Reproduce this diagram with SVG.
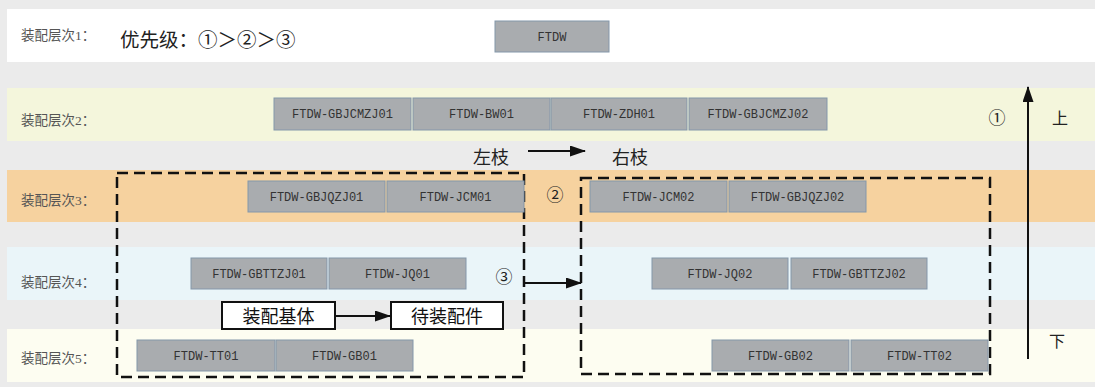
<svg xmlns="http://www.w3.org/2000/svg" width="1095" height="387" viewBox="0 0 1095 387">
  <style>
    .band-label { font-family: "Liberation Serif", "Noto Sans CJK SC", serif; font-size: 13.5px; fill: #555; }
    .node rect { fill: #a9acaf; stroke: #8497aa; stroke-width: 1; }
    .node text { font-family: "Liberation Mono", "DejaVu Sans Mono", monospace; font-size: 12px; fill: #333; text-anchor: middle; }
    .note { font-family: "Liberation Serif", "Noto Sans CJK SC", serif; fill: #222; }
    .cn { font-family: "Noto Sans CJK SC", sans-serif; fill: #222; }
    .group { fill: none; stroke: #111; stroke-width: 2.5; stroke-dasharray: 11 6; }
    .legend rect { fill: #fff; stroke: #111; stroke-width: 2; }
    .legend text { font-family: "Noto Sans CJK SC", sans-serif; font-size: 18px; fill: #111; text-anchor: middle; }
    .conn { stroke: #111; stroke-width: 2; fill: none; }
  </style>
  <defs>
    <marker id="arrow" viewBox="0 0 16 11" refX="15" refY="5.5" markerWidth="8" markerHeight="5.5" markerUnits="strokeWidth" orient="auto">
      <path d="M0,0 L16,5.5 L0,11 z" fill="#111"/>
    </marker>
  </defs>

  <!-- background and level bands -->
  <rect x="0" y="0" width="1095" height="387" fill="#ebebeb"/>
  <rect x="7" y="9" width="1088" height="53" fill="#ffffff"/>
  <rect x="7" y="88" width="1088" height="53" fill="#f4f6dc"/>
  <rect x="7" y="170" width="1088" height="52" fill="#f6d29f"/>
  <rect x="7" y="247" width="1088" height="53" fill="#eaf5f9"/>
  <rect x="7" y="329" width="1088" height="53" fill="#fdfdf1"/>

  <!-- level labels -->
  <g id="labels">
    <text class="band-label" x="21" y="40">装配层次1：</text>
    <text class="band-label" x="21" y="125">装配层次2：</text>
    <text class="band-label" x="21" y="205">装配层次3：</text>
    <text class="band-label" x="21" y="287">装配层次4：</text>
    <text class="band-label" x="21" y="363">装配层次5：</text>
  </g>

  <text class="cn" x="120" y="47" font-size="19.5">优先级：①＞②＞③</text>

  <!-- branch groups -->
  <g id="branch-left"><rect class="group" x="117" y="173" width="407" height="204"/></g>
  <g id="branch-right"><rect class="group" x="581" y="178" width="409" height="196"/></g>

  <!-- level 1 -->
  <g id="n-FTDW" class="node"><rect x="495" y="21" width="114" height="31"/><text x="552" y="41">FTDW</text></g>

  <!-- level 2 -->
  <g id="n-GBJCMZJ01" class="node"><rect x="274" y="98" width="137" height="32"/><text x="342.5" y="118">FTDW-GBJCMZJ01</text></g>
  <g id="n-BW01" class="node"><rect x="413" y="98" width="137" height="32"/><text x="481.5" y="118">FTDW-BW01</text></g>
  <g id="n-ZDH01" class="node"><rect x="551" y="98" width="136" height="32"/><text x="619" y="118">FTDW-ZDH01</text></g>
  <g id="n-GBJCMZJ02" class="node"><rect x="689" y="98" width="138" height="32"/><text x="758" y="118">FTDW-GBJCMZJ02</text></g>

  <!-- level 3 -->
  <g id="n-GBJQZJ01" class="node"><rect x="248" y="181" width="137" height="31"/><text x="316.5" y="201">FTDW-GBJQZJ01</text></g>
  <g id="n-JCM01" class="node"><rect x="387" y="181" width="137" height="31"/><text x="455.5" y="201">FTDW-JCM01</text></g>
  <g id="n-JCM02" class="node"><rect x="590" y="181" width="137" height="31"/><text x="658.5" y="201">FTDW-JCM02</text></g>
  <g id="n-GBJQZJ02" class="node"><rect x="729" y="181" width="137" height="31"/><text x="797.5" y="201">FTDW-GBJQZJ02</text></g>

  <!-- level 4 -->
  <g id="n-GBTTZJ01" class="node"><rect x="191" y="258" width="136" height="31"/><text x="259" y="278">FTDW-GBTTZJ01</text></g>
  <g id="n-JQ01" class="node"><rect x="329" y="258" width="137" height="31"/><text x="397.5" y="278">FTDW-JQ01</text></g>
  <g id="n-JQ02" class="node"><rect x="652" y="258" width="136" height="31"/><text x="720" y="278">FTDW-JQ02</text></g>
  <g id="n-GBTTZJ02" class="node"><rect x="791" y="258" width="136" height="31"/><text x="859" y="278">FTDW-GBTTZJ02</text></g>

  <!-- level 5 -->
  <g id="n-TT01" class="node"><rect x="137" y="340" width="138" height="31"/><text x="206" y="360">FTDW-TT01</text></g>
  <g id="n-GB01" class="node"><rect x="276" y="340" width="137" height="31"/><text x="344.5" y="360">FTDW-GB01</text></g>
  <g id="n-GB02" class="node"><rect x="712" y="340" width="137" height="31"/><text x="780.5" y="360">FTDW-GB02</text></g>
  <g id="n-TT02" class="node"><rect x="851" y="340" width="137" height="31"/><text x="919.5" y="360">FTDW-TT02</text></g>

  <!-- legend: base part to mating part -->
  <g id="legend-base" class="legend"><rect x="222" y="302" width="113" height="27"/><text x="278.5" y="323">装配基体</text></g>
  <g id="legend-part" class="legend"><rect x="391" y="302" width="112" height="27"/><text x="447" y="323">待装配件</text></g>

  <!-- connectors -->
  <g id="connectors">
    <line class="conn" x1="335" y1="316" x2="390" y2="316" marker-end="url(#arrow)"/>
    <line class="conn" x1="528" y1="151" x2="585" y2="151" marker-end="url(#arrow)"/>
    <line class="conn" x1="524" y1="283" x2="581" y2="283" marker-end="url(#arrow)"/>
    <line class="conn" x1="1028" y1="359" x2="1028" y2="87" marker-end="url(#arrow)"/>
  </g>

  <!-- annotations -->
  <text class="cn" x="473" y="164" font-size="18">左枝</text>
  <text class="cn" x="612" y="164" font-size="18">右枝</text>
  <text class="note" x="555" y="201" font-size="17" text-anchor="middle">②</text>
  <text class="note" x="504" y="283" font-size="17" text-anchor="middle">③</text>
  <text class="note" x="997" y="124" font-size="17" text-anchor="middle">①</text>
  <text class="cn" x="1060" y="124" font-size="16" text-anchor="middle">上</text>
  <text class="cn" x="1057" y="347" font-size="16" text-anchor="middle">下</text>
</svg>
